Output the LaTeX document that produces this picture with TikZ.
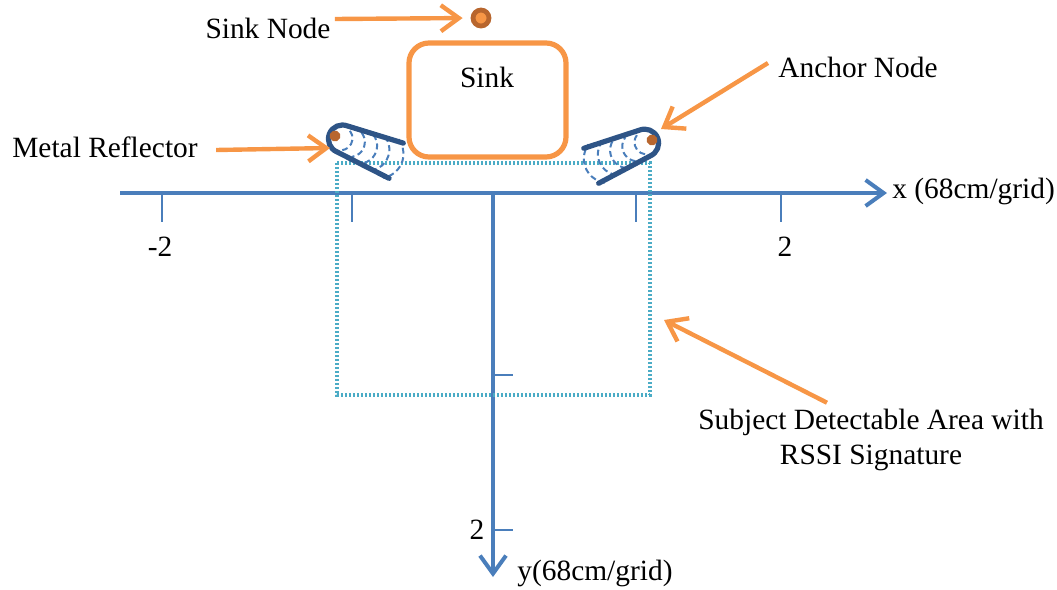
\documentclass[tikz,border=0pt]{standalone}
\usepackage{fontspec}
\setmainfont{Liberation Serif}
\usetikzlibrary{arrows.meta}
\definecolor{axisblue}{RGB}{74,126,187}
\definecolor{refblue}{RGB}{46,84,134}
\definecolor{sinkorange}{RGB}{247,150,70}
\definecolor{dotbrown}{RGB}{184,102,46}
\definecolor{areacyan}{RGB}{75,172,198}
\begin{document}
\begin{tikzpicture}[x=0.5pt,y=-0.5pt,
    lbl/.style={font=\fontsize{14.7}{17.5}\selectfont,inner sep=0pt},
    axis/.style={axisblue,line width=2pt},
    tick/.style={axisblue,line width=1pt},
    callout/.style={sinkorange,line width=2.2pt,-{Straight Barb[length=9pt,width=13pt]}},
    wave/.style={axisblue,line width=1pt,dash pattern=on 3pt off 1.8pt},
    reflector/.style={refblue,line width=2.6pt,line cap=round}]
\useasboundingbox (0,0) rectangle (1057,590);
% axes
\draw[axis,-{Straight Barb[length=9pt,width=13pt]}] (120,193) -- (887,193);
\draw[axis,-{Straight Barb[length=9pt,width=13pt]}] (493,193) -- (493,577);
\foreach \tx in {162,352,636,781}
  \draw[tick] (\tx,193) -- (\tx,222);
\foreach \ty in {375,530}
  \draw[tick] (493,\ty) -- (513,\ty);
\node[lbl] (xm2) at (160,247) {-2};
\node[lbl] (xp2) at (785,247) {2};
\node[lbl] (yp2) at (477,530) {2};
\node[lbl,anchor=west] (xlbl) at (892,191) {x (68cm/grid)};
\node[lbl,anchor=west] (ylbl) at (517,573) {y(68cm/grid)};
% detectable area
\draw[areacyan,line width=1.8pt,dash pattern=on 1.1pt off 0.9pt] (337,163) rectangle (650,395);
% sink
\node[draw=sinkorange,line width=2.6pt,rounded corners=10pt,minimum width=78.5pt,minimum height=57pt] (sink) at (487.5,100) {};
\node[lbl] (sinktxt) at (487,77) {Sink};
\node[circle,fill=sinkorange,draw=dotbrown,line width=2.4pt,minimum size=8pt,inner sep=0pt] (sinkdot) at (481,18) {};
% reflectors
\begin{scope}[shift={(335,136)},rotate=-22]
\foreach \d/\r in {18/12,31/15,44/18,57/21,72/24}
  \draw[wave] ({\d-\r+\r*cos(60)},{-\r*sin(60)}) arc (-60:60:\r);
\draw[reflector] (66,-19) -- (8,-14) arc (270:90:14) -- (66,19);
\fill[dotbrown] (0,0) circle (5.5);
\coordinate (lanchor) at (0,0);
\end{scope}
\begin{scope}[shift={(652,140)},rotate=-157]
\foreach \d/\r in {18/12,31/15,44/18,57/21,72/24}
  \draw[wave] ({\d-\r+\r*cos(60)},{-\r*sin(60)}) arc (-60:60:\r);
\draw[reflector] (66,-19) -- (8,-14) arc (270:90:14) -- (66,19);
\fill[dotbrown] (0,0) circle (5.5);
\coordinate (ranchor) at (0,0);
\end{scope}
% labels
\node[lbl] (sinklbl) at (268,28) {Sink Node};
\node[lbl] (reflbl) at (105,147) {Metal Reflector};
\node[lbl] (anclbl) at (858,67) {Anchor Node};
\node[lbl,align=center] (arealbl) at (871,440) {Subject Detectable Area with\\RSSI Signature};
\coordinate (reftip) at (330,148);
\coordinate (anctip) at (661,129);
\coordinate (areatip) at (664,320);
\draw[callout,shorten >=4pt] ([xshift=2pt,yshift=4.5pt]sinklbl.east) -- (sinkdot.west);
\draw[callout] ([xshift=9pt,yshift=-1.5pt]reflbl.east) -- (reftip);
\draw[callout] ([xshift=-5pt,yshift=2pt]anclbl.west) -- (anctip);
\draw[callout] ([xshift=-22pt,yshift=3pt]arealbl.north) -- (areatip);
\end{tikzpicture}
\end{document}
